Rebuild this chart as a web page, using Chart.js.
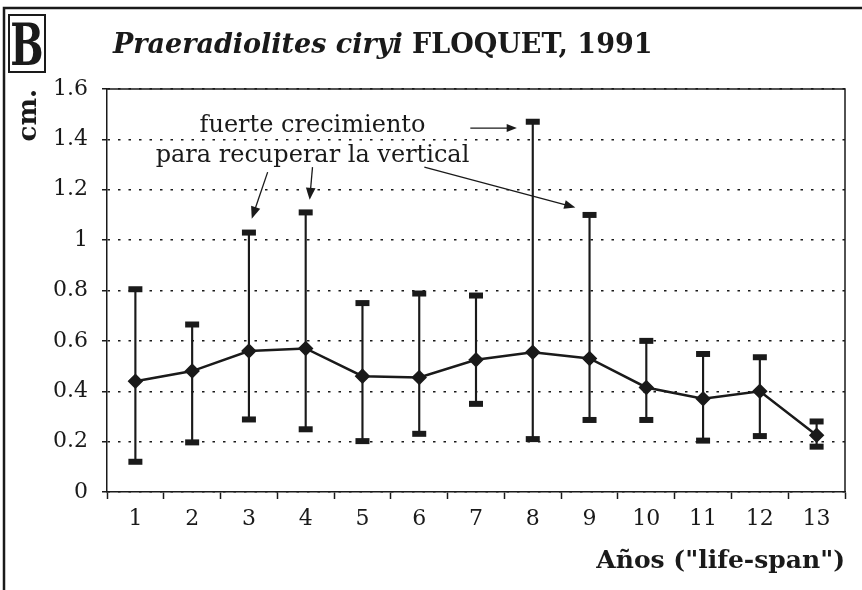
<!DOCTYPE html>
<html>
<head>
<meta charset="utf-8">
<script src="https://cdn.jsdelivr.net/npm/chart.js@4/dist/chart.umd.min.js"></script>
<style>
  html, body { margin: 0; padding: 0; background: #fff; }
  #wrap { width: 862px; height: 590px; }
</style>
</head>
<body>
<div id="wrap"><canvas id="growthChart" width="862" height="590"></canvas></div>
<script>
// Data (cm. per year)
const years = ["1", "2", "3", "4", "5", "6", "7", "8", "9", "10", "11", "12", "13"];
const meanGrowth = [0.44, 0.48, 0.56, 0.57, 0.46, 0.455, 0.525, 0.555, 0.53, 0.415, 0.37, 0.40, 0.225];
const maxGrowth = [0.805, 0.665, 1.03, 1.11, 0.75, 0.788, 0.78, 1.47, 1.10, 0.60, 0.548, 0.535, 0.28];
const minGrowth = [0.12, 0.197, 0.288, 0.249, 0.202, 0.231, 0.35, 0.21, 0.286, 0.286, 0.204, 0.222, 0.18];

const ink = "#1a1a1a";
const serif = '"DejaVu Serif", "Liberation Serif", serif';

// annotation arrows, in [category index, value] pairs
const notes = [
  { from: [2.33, 1.27], to: [2.05, 1.085], head: 13 },
  { from: [3.12, 1.29], to: [3.07, 1.16], head: 13 },
  { from: [5.90, 1.445], to: [6.72, 1.445], head: 11 },
  { from: [5.09, 1.29], to: [7.75, 1.13], head: 12 }
];

function arrow(ctx, x1, y1, x2, y2, head) {
  const a = Math.atan2(y2 - y1, x2 - x1);
  ctx.beginPath();
  ctx.moveTo(x1, y1);
  ctx.lineTo(x2 - Math.cos(a) * head * 0.6, y2 - Math.sin(a) * head * 0.6);
  ctx.stroke();
  ctx.beginPath();
  ctx.moveTo(x2, y2);
  ctx.lineTo(x2 - head * Math.cos(a - 0.38), y2 - head * Math.sin(a - 0.38));
  ctx.lineTo(x2 - head * Math.cos(a + 0.38), y2 - head * Math.sin(a + 0.38));
  ctx.closePath();
  ctx.fill();
}

const decor = {
  id: "decor",
  beforeDraw(chart) {
    const ctx = chart.ctx;
    ctx.save();
    ctx.fillStyle = "#fff";
    ctx.fillRect(0, 0, chart.width, chart.height);
    ctx.restore();
  },
  afterDraw(chart) {
    const ctx = chart.ctx;
    const area = chart.chartArea;
    const xs = chart.scales.x, ys = chart.scales.y;
    ctx.save();

    // plot frame (top and right)
    ctx.strokeStyle = ink;
    ctx.lineWidth = 1.5;
    ctx.beginPath();
    ctx.moveTo(area.left, area.top);
    ctx.lineTo(area.right, area.top);
    ctx.lineTo(area.right, area.bottom);
    ctx.stroke();

    // outer figure frame
    ctx.lineWidth = 2.5;
    ctx.beginPath();
    ctx.moveTo(4, 590);
    ctx.lineTo(4, 8);
    ctx.lineTo(862, 8);
    ctx.stroke();

    // boxed panel letter (narrow, heavy B)
    ctx.lineWidth = 2;
    ctx.strokeRect(9, 15, 36, 57);
    ctx.fillStyle = ink;
    ctx.save();
    ctx.translate(27, 65);
    ctx.scale(0.68, 1);
    ctx.font = "bold 58px " + serif;
    ctx.textAlign = "center";
    ctx.textBaseline = "alphabetic";
    ctx.fillText("B", 0, 0);
    ctx.restore();

    // title
    ctx.textAlign = "left";
    ctx.textBaseline = "alphabetic";
    ctx.font = "italic bold 27px " + serif;
    const part1 = "Praeradiolites ciryi ";
    ctx.fillText(part1, 113, 53);
    const w1 = ctx.measureText(part1).width;
    ctx.font = "bold 27px " + serif;
    ctx.fillText("FLOQUET, 1991", 113 + w1, 53);

    // annotation text
    ctx.font = "24px " + serif;
    ctx.textAlign = "center";
    const cx = xs.getPixelForValue(3.12);
    ctx.fillText("fuerte crecimiento", cx, ys.getPixelForValue(1.43));
    ctx.fillText("para recuperar la vertical", cx, ys.getPixelForValue(1.31));

    // arrows
    ctx.lineWidth = 1.3;
    notes.forEach(n => {
      arrow(ctx,
        xs.getPixelForValue(n.from[0]), ys.getPixelForValue(n.from[1]),
        xs.getPixelForValue(n.to[0]), ys.getPixelForValue(n.to[1]), n.head);
    });
    ctx.restore();
  }
};

const ctx = document.getElementById("growthChart").getContext("2d");
new Chart(ctx, {
  type: "bar",
  data: {
    labels: years,
    datasets: [
      {
        type: "line",
        label: "media",
        data: meanGrowth,
        borderColor: ink,
        borderWidth: 2.5,
        pointStyle: "rectRot",
        pointRadius: 6,
        pointBackgroundColor: ink,
        pointBorderColor: ink,
        tension: 0,
        order: 0
      },
      {
        type: "line",
        label: "max",
        data: maxGrowth,
        showLine: false,
        pointStyle: "line",
        pointRadius: 7,
        pointBorderWidth: 6,
        pointBorderColor: ink,
        order: 1
      },
      {
        type: "line",
        label: "min",
        data: minGrowth,
        showLine: false,
        pointStyle: "line",
        pointRadius: 7,
        pointBorderWidth: 6,
        pointBorderColor: ink,
        order: 1
      },
      {
        label: "rango",
        data: years.map((_, i) => [minGrowth[i], maxGrowth[i]]),
        backgroundColor: ink,
        barThickness: 1.5,
        borderSkipped: false,
        order: 2
      }
    ]
  },
  options: {
    responsive: false,
    animation: false,
    layout: { padding: { left: 0, top: 89, right: 17, bottom: 0 } },
    plugins: {
      legend: { display: false },
      tooltip: { enabled: false }
    },
    scales: {
      x: {
        afterFit(scale) { scale.height = 98; },
        grid: {
          drawOnChartArea: false,
          drawTicks: true,
          tickLength: 7,
          tickColor: ink,
          tickWidth: 1.5
        },
        border: { display: true, color: ink, width: 1.5 },
        ticks: {
          color: ink,
          padding: 7,
          maxRotation: 0,
          font: { family: serif, size: 22 }
        },
        title: {
          display: true,
          text: 'Años ("life-span")',
          align: "end",
          color: ink,
          padding: { top: 0, bottom: 14 },
          font: { family: serif, size: 25, weight: "bold" }
        }
      },
      y: {
        min: 0,
        max: 1.6,
        afterFit(scale) { scale.width = 107; },
        grid: {
          color: ink,
          lineWidth: 1.5,
          drawTicks: true,
          tickLength: 5,
          tickColor: ink
        },
        border: { display: true, color: ink, width: 1.5, dash: [2.5, 8] },
        ticks: {
          stepSize: 0.2,
          color: ink,
          padding: 14,
          font: { family: serif, size: 22 },
          callback: v => String(Math.round(v * 10) / 10)
        },
        title: {
          display: true,
          text: "cm.",
          align: "end",
          color: ink,
          padding: { top: 14, bottom: 0 },
          font: { family: serif, size: 26, weight: "bold" }
        }
      }
    }
  },
  plugins: [decor]
});
</script>
</body>
</html>
